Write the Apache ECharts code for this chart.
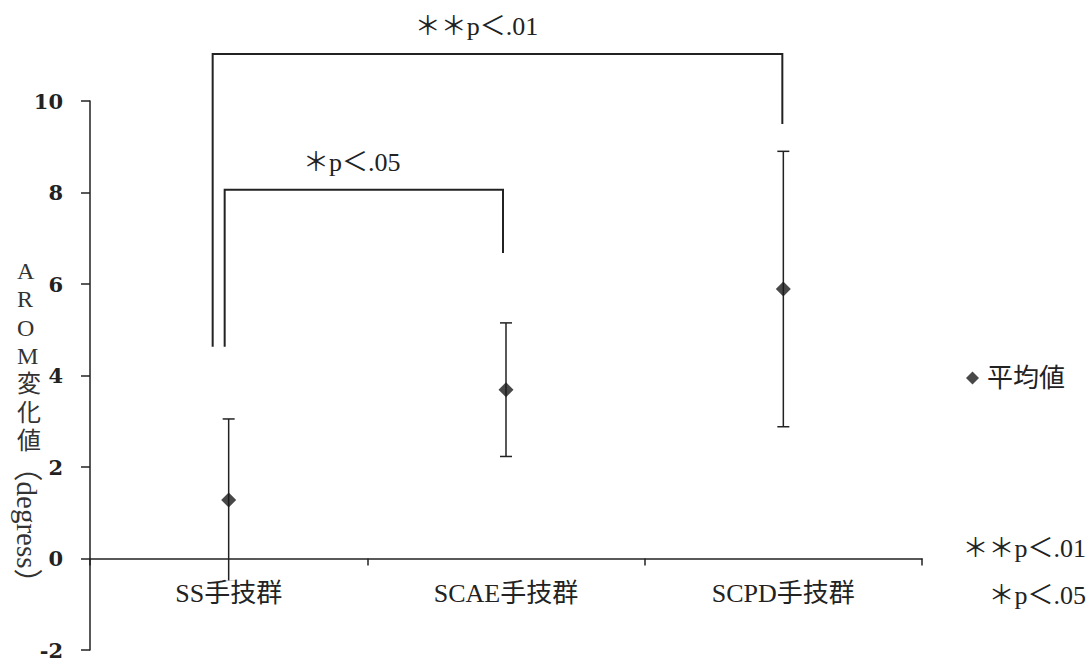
<!DOCTYPE html>
<html>
<head>
<meta charset="utf-8">
<script src="https://cdn.jsdelivr.net/npm/echarts@6/dist/echarts.min.js"></script>
<style>
html,body{margin:0;padding:0;background:#fff;}
#chart{width:1090px;height:661px;}
</style>
</head>
<body>
<div id="chart"></div>
<script>
// ---- data ----
const categories = ['SS手技群', 'SCAE手技群', 'SCPD手技群'];
const means = [1.28, 3.69, 5.89];
const errLow = [-0.5, 2.23, 2.88];
const errHigh = [3.05, 5.15, 8.9];
const yMin = -2, yMax = 10, yInterval = 2;
const bracketFrom = [0, 0];
const bracketTo = [2, 1];
const bracketTop = [11.03, 8.06];
const bracketLeftEnd = [4.63, 4.63];
const bracketRightEnd = [9.5, 6.68];
const bracketLabels = ['＊＊p＜.01', '＊p＜.05'];
const legendName = '平均値';
const noteLabels = ['＊＊p＜.01', '＊p＜.05'];
const axisTitleUpright = ['A', 'R', 'O', 'M', '変', '化', '値'];
const axisTitleRotated = '（degress）';

// ---- styles ----
const FONT = "'Liberation Serif','Noto Sans CJK JP',serif";
const NUMFONT = "'DejaVu Serif','Liberation Serif',serif";
const INK = '#222';
const W = 1090, H = 661;
const GRID = {left: 90, right: 168, top: 101, bottom: 11};
const bracketStyle = {
  leftOffset: [-16, -4],
  rightOffset: [-1, -3],
  textOffsetX: [-21, -12],
  textOffsetY: -27
};
// place the category axis on the zero line
const gridH = H - GRID.top - GRID.bottom;
const zeroOffset = -gridH * (0 - yMin) / (yMax - yMin);

const chart = echarts.init(document.getElementById('chart'), null, {renderer: 'svg'});

const errData = categories.map((c, i) => [i, errLow[i], errHigh[i]]);
const bracketData = bracketFrom.map((f, i) => [f, bracketTo[i], bracketTop[i], bracketLeftEnd[i], bracketRightEnd[i], i]);

const option = {
  backgroundColor: '#fff',
  animation: false,
  grid: Object.assign({containLabel: false, outerBoundsMode: 'none'}, GRID),
  xAxis: {
    type: 'category',
    data: categories,
    position: 'bottom',
    offset: zeroOffset,
    z: 5,
    axisLine: {onZero: false, lineStyle: {color: INK, width: 1.5}},
    axisTick: {show: true, length: 7, lineStyle: {color: INK, width: 1.5}},
    axisLabel: {
      fontFamily: FONT, fontSize: 26, color: '#222', margin: 22,
      backgroundColor: '#fff', padding: [0, 2]
    },
    splitLine: {show: false}
  },
  yAxis: {
    type: 'value',
    min: yMin, max: yMax, interval: yInterval,
    axisLine: {show: true, lineStyle: {color: INK, width: 1.5}},
    axisTick: {show: true, length: 9, lineStyle: {color: INK, width: 1.5}},
    axisLabel: {fontFamily: NUMFONT, fontSize: 21, fontWeight: 'bold', color: '#222', margin: 27},
    splitLine: {show: false}
  },
  legend: {
    left: 961, top: 360,
    itemWidth: 13, itemHeight: 13,
    data: [{name: legendName, icon: 'diamond'}],
    textStyle: {fontFamily: FONT, fontSize: 26, color: '#222', padding: [0, 0, 0, 3]}
  },
  graphic: [
    {
      type: 'text', left: 17, top: 257, z: 10,
      style: {text: axisTitleUpright.join('\n'), font: '24px ' + FONT, fill: '#333',
        lineHeight: 28.3, align: 'center'}
    },
    {
      type: 'text', x: 27, y: 525, rotation: -Math.PI / 2, z: 10,
      style: {text: axisTitleRotated, font: '29px ' + FONT, fill: '#333',
        align: 'center', verticalAlign: 'middle'}
    },
    {
      type: 'text', x: 1086, y: 548, z: 10,
      style: {text: noteLabels[0], font: '26px ' + FONT, fill: '#222', align: 'right', verticalAlign: 'middle'}
    },
    {
      type: 'text', x: 1086, y: 595, z: 10,
      style: {text: noteLabels[1], font: '26px ' + FONT, fill: '#222', align: 'right', verticalAlign: 'middle'}
    }
  ],
  series: [
    {
      type: 'custom',
      name: 'err',
      clip: false,
      data: errData,
      renderItem: function (params, api) {
        const x = api.value(0);
        const lo = api.coord([x, api.value(1)]);
        const hi = api.coord([x, api.value(2)]);
        const cap = 6;
        const st = {stroke: INK, lineWidth: 1.5};
        return {
          type: 'group',
          children: [
            {type: 'line', shape: {x1: hi[0], y1: hi[1], x2: lo[0], y2: lo[1]}, style: st},
            {type: 'line', shape: {x1: hi[0] - cap, y1: hi[1], x2: hi[0] + cap, y2: hi[1]}, style: st},
            {type: 'line', shape: {x1: lo[0] - cap, y1: lo[1], x2: lo[0] + cap, y2: lo[1]}, style: st}
          ]
        };
      }
    },
    {
      type: 'custom',
      name: 'brackets',
      clip: false,
      data: bracketData,
      renderItem: function (params, api) {
        const i = api.value(5);
        const top = api.value(2);
        const l = api.coord([api.value(0), top]);
        const r = api.coord([api.value(1), top]);
        const lx = l[0] + bracketStyle.leftOffset[i];
        const rx = r[0] + bracketStyle.rightOffset[i];
        const ly = api.coord([api.value(0), api.value(3)])[1];
        const ry = api.coord([api.value(1), api.value(4)])[1];
        const ty = l[1];
        return {
          type: 'group',
          children: [
            {type: 'polyline', shape: {points: [[lx, ly], [lx, ty], [rx, ty], [rx, ry]]},
              style: {stroke: INK, lineWidth: 2, fill: null}},
            {type: 'text', x: (lx + rx) / 2 + bracketStyle.textOffsetX[i], y: ty + bracketStyle.textOffsetY,
              style: {text: bracketLabels[i], font: '26px ' + FONT, fill: '#222',
                align: 'center', verticalAlign: 'middle'}}
          ]
        };
      }
    },
    {
      type: 'scatter',
      name: legendName,
      symbol: 'diamond',
      symbolSize: 15,
      z: 4,
      itemStyle: {color: '#1a1a1a'},
      data: means.map((m, i) => [i, m])
    }
  ]
};
chart.setOption(option);
</script>
</body>
</html>
